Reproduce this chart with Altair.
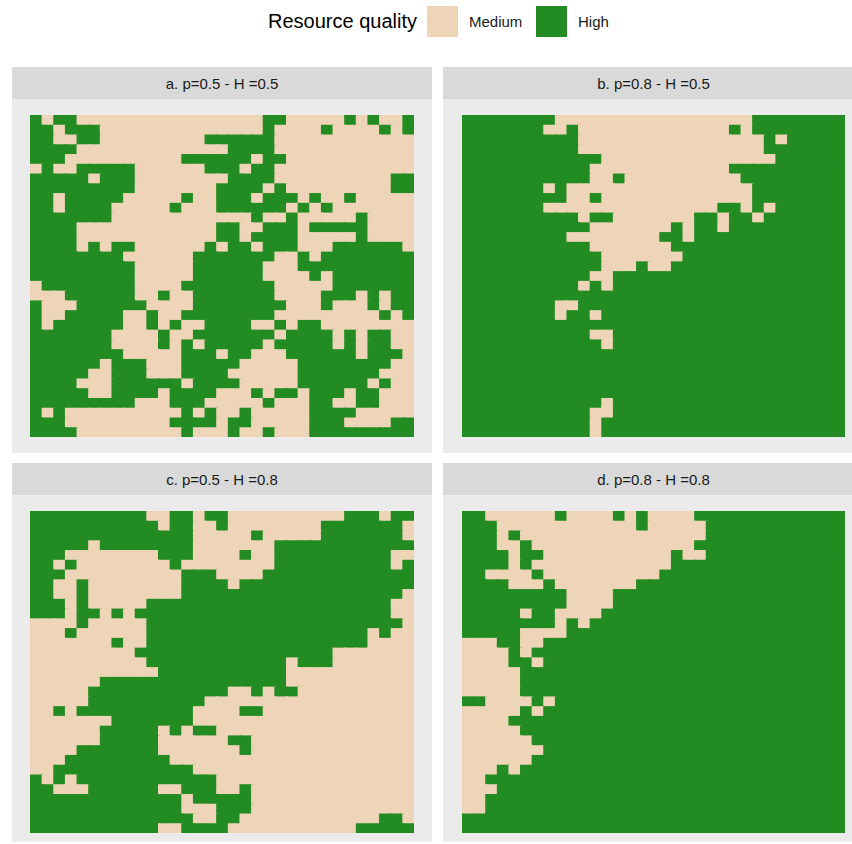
import altair as alt
import pandas as pd

# Resource quality levels and their fill colours
QUALITY_LEVELS = ["Medium", "High"]
QUALITY_COLORS = ["#EED5B7", "#228B22"]

PANEL_TITLES = [
    "a. p=0.5 - H =0.5",
    "b. p=0.8 - H =0.5",
    "c. p=0.5 - H =0.8",
    "d. p=0.8 - H =0.8",
]

N_CELLS = 33

# Landscapes: one string per row (top to bottom), run-length coded,
# G = High quality cells, M = Medium quality cells.
GRID_A = [
    "G1 M1 G2 M16 G2 M5 G1 M1 G1 M2 G1",
    "G2 M1 G3 M14 G1 M4 G1 M4 G1 M1 G1",
    "G2 M2 G2 M9 G6 M12",
    "G4 M13 G4 M12",
    "G3 M10 G6 M1 G2 M11",
    "M1 G1 M2 G5 M6 G3 M1 G2 M12",
    "G5 M1 G3 M8 G4 M10 G2",
    "G9 M7 G4 M1 G1 M9 G2",
    "G2 M1 G5 M5 G1 M2 G3 M1 G3 M1 G1 M2 G1 M5",
    "G2 M1 G4 M5 G1 M3 G6 M1 G1 M1 G1 M7",
    "G7 M12 G1 M2 G1 M5 G1 M4",
    "G4 M12 G2 M2 G3 M1 G5 M4",
    "G4 M12 G2 M1 G4 M5 G1 M4",
    "G4 M1 G1 M1 G2 M6 G1 M1 G2 M1 G3 M3 G6 M1",
    "G8 M6 G7 M2 G1 M1 G8",
    "G9 M5 G6 M3 G10",
    "G9 M5 G6 M4 G1 M1 G7",
    "M1 G8 M4 G8 M5 G7",
    "M3 G6 M2 G1 M2 G7 M4 G3 M1 G1 M1 G2",
    "G1 M3 G6 M4 G8 M3 G1 M3 G1 M1 G2",
    "G1 M2 G5 M2 G1 M2 G8 M9 G1 M1 G1",
    "G1 M1 G6 M2 G1 M1 G1 M2 G4 M2 G1 M1 G2 M8",
    "G7 M4 G1 M2 G7 M1 G4 M1 G1 M1 G2 M2",
    "G7 M4 G1 M1 G1 M1 G5 M1 G5 M1 G1 M1 G2 M2",
    "G8 M5 G3 M1 G2 M3 G6 M1 G3 M1",
    "G6 M1 G3 M3 G5 M5 G8 M2",
    "G5 M2 G3 M3 G4 M6 G7 M3",
    "G4 M3 G6 M1 G4 M5 G6 M1 G1 M2",
    "G5 M2 G4 M1 G4 M3 G1 M1 G2 M1 G3 M1 G2 M3",
    "G9 M3 G3 M5 G1 M3 G2 M2 G2 M3",
    "G1 M1 G1 M10 G1 M1 G1 M2 G1 M5 G4 M5",
    "G3 M9 G4 M1 G2 M5 G3 M4 G2",
    "G4 M9 G1 M3 G1 M2 G1 M3 G9",
]

GRID_B = [
    "G8 M17 G8",
    "G7 M2 G1 M13 G1 M1 G8",
    "G10 M16 G1 M1 G5",
    "G10 M16 G7",
    "G12 M15 G6",
    "G11 M12 G10",
    "G11 M2 G1 M10 G9",
    "G7 M1 G1 M16 G8",
    "G9 M2 G1 M13 G8",
    "G7 M15 G2 M1 G1 M1 G6",
    "G10 M1 G2 M7 G2 M1 G2 M1 G7",
    "G11 M7 G1 M1 G2 M1 G10",
    "G9 M8 G2 M1 G13",
    "G11 M7 G15",
    "G12 M7 G14",
    "G12 M3 G1 M2 G15",
    "G11 M2 G20",
    "G10 M1 G1 M1 G20",
    "G33",
    "G8 M2 G23",
    "G8 M1 G2 M1 G21",
    "G33",
    "G11 M2 G20",
    "G12 M1 G20",
    "G33",
    "G33",
    "G33",
    "G33",
    "G33",
    "G12 M1 G20",
    "G11 M2 G20",
    "G11 M1 G21",
    "G11 M1 G21",
]

GRID_C = [
    "G10 M2 G2 M1 G2 M10 G3 M1 G2",
    "G11 M1 G2 M2 G1 M8 G7 M1",
    "G14 M5 G1 M5 G7 M1",
    "G5 M1 G8 M7 G12",
    "G3 M8 G3 M4 G1 M2 G10 M2",
    "G2 M1 G1 M8 G1 M8 G10 M1 G1",
    "G3 M10 G3 M4 G13",
    "G2 M2 G1 M8 G4 M1 G15",
    "G2 M2 G1 M8 G19 M1",
    "G3 M1 G1 M5 G21 M2",
    "G3 M1 G2 M1 G1 M1 G22 M2",
    "M4 G1 M5 G22 M1",
    "M3 G1 M6 G19 M1 G1 M2",
    "M7 G1 M2 G19 M4",
    "M9 G17 M7",
    "M10 G12 M1 G3 M7",
    "M11 G11 M11",
    "M6 G16 M11",
    "M5 G12 M2 G1 M1 G2 M10",
    "M5 G10 M18",
    "M2 G1 M1 G10 M4 G2 M13",
    "M7 G7 M19",
    "M6 G5 M1 G1 M1 G2 M17",
    "M6 G5 M6 G2 M14",
    "M4 G7 M7 G1 M14",
    "M3 G9 M21",
    "M2 G12 M19",
    "G1 M1 G1 M1 G12 M17",
    "G2 M3 G6 M2 G3 M2 G1 M14",
    "G13 M1 G5 M14",
    "G13 M3 G3 M14",
    "G14 M2 G2 M12 G2 M1",
    "G11 M2 G4 M11 G5",
]

GRID_D = [
    "G2 M6 G1 M4 G1 M1 G1 M4 G13",
    "G3 M12 G1 M5 G12",
    "G3 M1 G1 M16 G12",
    "G3 M2 G1 M14 G13",
    "G4 M1 G2 M11 G1 M2 G12",
    "G4 M1 G1 M12 G15",
    "G2 M4 G1 M10 G16",
    "G4 M3 G1 M7 G18",
    "G9 M4 G20",
    "G9 M4 G20",
    "G5 M1 G2 M4 G21",
    "G8 M1 G1 M1 G22",
    "G5 M4 G24",
    "M3 G2 M2 G26",
    "M4 G1 M1 G27",
    "M4 G2 M1 G26",
    "M5 G28",
    "M5 G28",
    "M5 G28",
    "G2 M4 G1 M1 G25",
    "M5 G1 M1 G26",
    "M4 G29",
    "M5 G28",
    "M6 G27",
    "M7 G26",
    "M6 G27",
    "M3 G1 M1 G28",
    "M2 G31",
    "M3 G30",
    "M2 G31",
    "M2 G31",
    "G33",
    "G33",
]

FONT = "Liberation Sans"
STRIP_H = 32
STRIP_FILL = "#D9D9D9"
PANEL_FILL = "#EBEBEB"
# each tile reaches slightly under its right/lower neighbour (drawn later),
# so antialiased edges never let the panel background show through
SEAM = 0.16


def expand(rows):
    """Decode run-length rows into one record per grid cell."""
    records = []
    for r, row in enumerate(rows):
        c = 0
        for tok in row.split():
            level = "High" if tok[0] == "G" else "Medium"
            for _ in range(int(tok[1:])):
                records.append({"col": c, "row": r, "quality": level})
                c += 1
    return pd.DataFrame(records)


def domain(size, lead, grid_px):
    """Scale domain putting the grid at [lead, lead + grid_px] pixels of a panel."""
    cell = grid_px / N_CELLS
    return [-lead / cell, N_CELLS + (size - lead - grid_px) / cell]


legend = alt.Legend(
    title="Resource quality",
    orient="none",
    legendX=256,
    legendY=-61,
    direction="horizontal",
    titleOrient="left",
    titleFont=FONT,
    titleFontSize=20,
    titleFontWeight="normal",
    titleColor="#000000",
    titlePadding=10,
    titleBaseline="middle",
    titleAnchor="middle",
    labelFont=FONT,
    labelFontSize=15,
    labelColor="#1A1A1A",
    labelOffset=11,
    columnPadding=13,
    symbolType="square",
    symbolSize=961,
    symbolStrokeWidth=0,
    symbolOpacity=1,
    padding=0,
)


def panel(title, rows, width, height, xdom, ydom):
    df = expand(rows)
    color_scale = alt.Scale(domain=QUALITY_LEVELS, range=QUALITY_COLORS)
    tiles = alt.Chart(df).mark_rect(strokeWidth=0).transform_calculate(
        col_end=f"min(datum.col + 1 + {SEAM}, {N_CELLS})",
        row_end=f"min(datum.row + 1 + {SEAM}, {N_CELLS})",
    ).encode(
        x=alt.X("col:Q", scale=alt.Scale(domain=xdom, nice=False, zero=False), axis=None),
        x2="col_end:Q",
        y=alt.Y("row:Q", scale=alt.Scale(domain=ydom, nice=False, zero=False, reverse=True), axis=None),
        y2="row_end:Q",
        color=alt.Color("quality:N", scale=color_scale, legend=legend),
    ).properties(
        width=width, height=height,
        view=alt.ViewBackground(fill=PANEL_FILL, strokeWidth=0),
    )

    # strip label centred over the grid of cells
    cx = (N_CELLS / 2 - xdom[0]) / (xdom[1] - xdom[0]) * width
    base = alt.Chart(alt.Data(values=[{"label": title}]))
    strip_bg = base.mark_rect(color=STRIP_FILL).encode(
        x=alt.value(0), x2=alt.value(width), y=alt.value(0), y2=alt.value(STRIP_H)
    )
    strip_txt = base.mark_text(font=FONT, fontSize=15, color="#1A1A1A").encode(
        text="label:N", x=alt.value(cx), y=alt.value(STRIP_H / 2 + 0.5)
    )
    strip = alt.layer(strip_bg, strip_txt).properties(
        width=width, height=STRIP_H,
        view=alt.ViewBackground(strokeWidth=0),
    )
    return alt.vconcat(strip, tiles, spacing=0).resolve_scale(x="independent", y="independent")


W_LEFT, W_RIGHT = 420, 409
H_TOP, H_BOTTOM = 354, 347

x_left = domain(W_LEFT, 18, 384)
x_right = domain(W_RIGHT, 19, 383)
y_top = domain(H_TOP, 16, 322)
y_bottom = domain(H_BOTTOM, 16, 322)

pa = panel(PANEL_TITLES[0], GRID_A, W_LEFT, H_TOP, x_left, y_top)
pb = panel(PANEL_TITLES[1], GRID_B, W_RIGHT, H_TOP, x_right, y_top)
pc = panel(PANEL_TITLES[2], GRID_C, W_LEFT, H_BOTTOM, x_left, y_bottom)
pd_ = panel(PANEL_TITLES[3], GRID_D, W_RIGHT, H_BOTTOM, x_right, y_bottom)

top = alt.hconcat(pa, pb, spacing=11).resolve_scale(x="independent", y="independent")
bottom = alt.hconcat(pc, pd_, spacing=11).resolve_scale(x="independent", y="independent")

chart = alt.vconcat(top, bottom, spacing=10).resolve_scale(
    x="independent", y="independent"
).properties(
    padding={"left": 12, "top": 6, "right": 0, "bottom": 0},
    background="#FFFFFF",
).configure_view(strokeWidth=0)

chart.save("out.html", embed_options={"renderer": "svg", "actions": False})
